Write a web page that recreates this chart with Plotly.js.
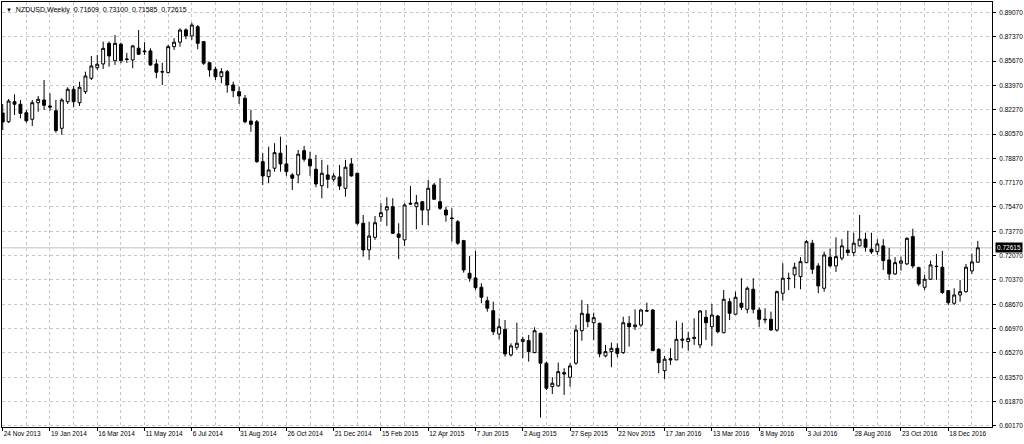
<!DOCTYPE html>
<html>
<head>
<meta charset="utf-8">
<script src="https://cdn.plot.ly/plotly-3.0.1.min.js"></script>
<style>
  html, body { margin: 0; padding: 0; background: #fff; }
  #chart { width: 1024px; height: 444px; }
</style>
</head>
<body>
<div id="chart"></div>
<script>
// NZDUSD weekly bars, 24 Nov 2013 .. Jan 2017 (one entry per week)
const opens = [
  0.8204, 0.8143, 0.8283, 0.8265, 0.8206, 0.8160, 0.8276, 0.8295, 0.8253, 0.8220,
  0.8097, 0.8283, 0.8370, 0.8276, 0.8353, 0.8447, 0.8521, 0.8547, 0.8691, 0.8570,
  0.8685, 0.8582, 0.8575, 0.8657, 0.8638, 0.8638, 0.8547, 0.8493, 0.8486, 0.8668,
  0.8699, 0.8785, 0.8743, 0.8807, 0.8703, 0.8556, 0.8510, 0.8458, 0.8493, 0.8400,
  0.8353, 0.8307, 0.8148, 0.8143, 0.7864, 0.7759, 0.7818, 0.7923, 0.7848, 0.7771,
  0.7771, 0.7941, 0.7881, 0.7811, 0.7696, 0.7771, 0.7741, 0.7757, 0.7678, 0.7848,
  0.7783, 0.7433, 0.7247, 0.7335, 0.7479, 0.7526, 0.7549, 0.7358, 0.7317, 0.7573,
  0.7549, 0.7584, 0.7526, 0.7701, 0.7584, 0.7526, 0.7470, 0.7444, 0.7312, 0.7084,
  0.7051, 0.6986, 0.6892, 0.6822, 0.6659, 0.6692, 0.6513, 0.6566, 0.6606, 0.6613,
  0.6529, 0.6664, 0.6455, 0.6291, 0.6296, 0.6389, 0.6357, 0.6455, 0.6682, 0.6799,
  0.6738, 0.6734, 0.6506, 0.6536, 0.6559, 0.6529, 0.6734, 0.6710, 0.6722, 0.6822,
  0.6827, 0.6552, 0.6403, 0.6487, 0.6478, 0.6615, 0.6606, 0.6636, 0.6583, 0.6776,
  0.6710, 0.6785, 0.6668, 0.6885, 0.6797, 0.6874, 0.6832, 0.6972, 0.6827, 0.6762,
  0.6762, 0.6687, 0.6944, 0.7049, 0.7072, 0.7060, 0.7158, 0.7294, 0.7135, 0.6979,
  0.7196, 0.7135, 0.7189, 0.7247, 0.7228, 0.7275, 0.7322, 0.7252, 0.7235, 0.7275,
  0.7177, 0.7079, 0.7154, 0.7149, 0.7340, 0.7123, 0.6986, 0.7042, 0.7130, 0.7126,
  0.6962, 0.6874, 0.6932, 0.6955, 0.7100, 0.71609
];
const highs = [
  0.8267, 0.8302, 0.8335, 0.8295, 0.8225, 0.8295, 0.8323, 0.8435, 0.8342, 0.8295,
  0.8307, 0.8384, 0.8393, 0.8423, 0.8493, 0.8603, 0.8610, 0.8703, 0.8703, 0.8749,
  0.8696, 0.8624, 0.8680, 0.8784, 0.8699, 0.8657, 0.8580, 0.8556, 0.8680, 0.8727,
  0.8796, 0.8796, 0.8835, 0.8819, 0.8703, 0.8563, 0.8528, 0.8517, 0.8505, 0.8423,
  0.8388, 0.8330, 0.8225, 0.8155, 0.7923, 0.7969, 0.7993, 0.8039, 0.7981, 0.7783,
  0.7946, 0.7974, 0.7934, 0.7911, 0.7876, 0.7841, 0.7783, 0.7841, 0.7876, 0.7888,
  0.7783, 0.7491, 0.7444, 0.7484, 0.7573, 0.7615, 0.7608, 0.7433, 0.7573, 0.7694,
  0.7631, 0.7584, 0.7736, 0.7715, 0.7749, 0.7549, 0.7538, 0.7456, 0.7317, 0.7205,
  0.7240, 0.7014, 0.6920, 0.6885, 0.6769, 0.6757, 0.6594, 0.6738, 0.6640, 0.6652,
  0.6706, 0.6668, 0.6466, 0.6357, 0.6459, 0.6420, 0.6455, 0.6722, 0.6897, 0.6869,
  0.6808, 0.6738, 0.6583, 0.6599, 0.6594, 0.6780, 0.6785, 0.6832, 0.6832, 0.6878,
  0.6832, 0.6559, 0.6506, 0.6559, 0.6752, 0.6738, 0.6675, 0.6769, 0.6827, 0.6827,
  0.6869, 0.6792, 0.6967, 0.6909, 0.6955, 0.7049, 0.6991, 0.7049, 0.6846, 0.6839,
  0.6815, 0.6962, 0.7154, 0.7088, 0.7158, 0.7196, 0.7317, 0.7317, 0.7154, 0.7235,
  0.7256, 0.7335, 0.7322, 0.7381, 0.7367, 0.7491, 0.7367, 0.7367, 0.7322, 0.7322,
  0.7261, 0.7196, 0.7200, 0.7335, 0.7395, 0.7130, 0.7072, 0.7172, 0.7219, 0.7240,
  0.6967, 0.6979, 0.7037, 0.7149, 0.7221, 0.73100
];
const lows = [
  0.8085, 0.8134, 0.8190, 0.8167, 0.8136, 0.8113, 0.8213, 0.8225, 0.8220, 0.8067,
  0.8051, 0.8267, 0.8244, 0.8253, 0.8337, 0.8435, 0.8505, 0.8512, 0.8528, 0.8540,
  0.8552, 0.8554, 0.8517, 0.8610, 0.8610, 0.8533, 0.8447, 0.8400, 0.8482, 0.8645,
  0.8668, 0.8720, 0.8715, 0.8650, 0.8540, 0.8458, 0.8435, 0.8412, 0.8346, 0.8314,
  0.8267, 0.8132, 0.8073, 0.7855, 0.7701, 0.7713, 0.7794, 0.7794, 0.7764, 0.7666,
  0.7713, 0.7864, 0.7764, 0.7685, 0.7608, 0.7678, 0.7724, 0.7666, 0.7619, 0.7759,
  0.7421, 0.7200, 0.7177, 0.7317, 0.7444, 0.7414, 0.7358, 0.7182, 0.7275, 0.7561,
  0.7391, 0.7421, 0.7421, 0.7596, 0.7526, 0.7444, 0.7305, 0.7282, 0.7088, 0.7025,
  0.6967, 0.6874, 0.6815, 0.6652, 0.6622, 0.6501, 0.6501, 0.6548, 0.6490, 0.6466,
  0.6525, 0.6075, 0.6268, 0.6240, 0.6291, 0.6233, 0.6291, 0.6443, 0.6612, 0.6706,
  0.6617, 0.6496, 0.6496, 0.6427, 0.6496, 0.6520, 0.6571, 0.6687, 0.6710, 0.6815,
  0.6539, 0.6385, 0.6343, 0.6443, 0.6478, 0.6559, 0.6543, 0.6583, 0.6559, 0.6617,
  0.6576, 0.6664, 0.6664, 0.6757, 0.6792, 0.6827, 0.6804, 0.6804, 0.6710, 0.6734,
  0.6682, 0.6675, 0.6892, 0.6967, 0.6979, 0.6972, 0.7154, 0.7079, 0.6944, 0.6955,
  0.7126, 0.7093, 0.7173, 0.7205, 0.7205, 0.7272, 0.7235, 0.7219, 0.7212, 0.7107,
  0.7037, 0.7072, 0.7102, 0.7142, 0.7118, 0.6995, 0.6967, 0.7037, 0.7037, 0.6939,
  0.6862, 0.6862, 0.6885, 0.6948, 0.7079, 0.71585
];
const closes = [
  0.8141, 0.8288, 0.8265, 0.8202, 0.8150, 0.8276, 0.8300, 0.8258, 0.8246, 0.8081,
  0.8295, 0.8370, 0.8283, 0.8384, 0.8463, 0.8533, 0.8545, 0.8656, 0.8603, 0.8691,
  0.8570, 0.8579, 0.8673, 0.8615, 0.8633, 0.8540, 0.8489, 0.8491, 0.8668, 0.8699,
  0.8784, 0.8743, 0.8819, 0.8691, 0.8552, 0.8505, 0.8458, 0.8493, 0.8400, 0.8360,
  0.8323, 0.8143, 0.8125, 0.7864, 0.7764, 0.7806, 0.7927, 0.7848, 0.7794, 0.7748,
  0.7916, 0.7881, 0.7834, 0.7708, 0.7783, 0.7741, 0.7764, 0.7694, 0.7825, 0.7764,
  0.7433, 0.7247, 0.7344, 0.7437, 0.7507, 0.7549, 0.7363, 0.7335, 0.7561, 0.7568,
  0.7577, 0.7526, 0.7678, 0.7601, 0.7538, 0.7491, 0.7467, 0.7294, 0.7107, 0.7049,
  0.6983, 0.6916, 0.6839, 0.6675, 0.6710, 0.6520, 0.6576, 0.6594, 0.6622, 0.6536,
  0.6682, 0.6455, 0.6280, 0.6315, 0.6396, 0.6380, 0.6436, 0.6687, 0.6804, 0.6745,
  0.6773, 0.6520, 0.6536, 0.6559, 0.6524, 0.6738, 0.6710, 0.6722, 0.6827, 0.6820,
  0.6543, 0.6459, 0.6483, 0.6478, 0.6622, 0.6622, 0.6629, 0.6629, 0.6820, 0.6738,
  0.6792, 0.6675, 0.6902, 0.6804, 0.6916, 0.6846, 0.6979, 0.6832, 0.6762, 0.6759,
  0.6687, 0.6955, 0.7049, 0.7047, 0.7126, 0.7165, 0.7305, 0.7112, 0.6995, 0.7212,
  0.7135, 0.7200, 0.7275, 0.7228, 0.7294, 0.7322, 0.7266, 0.7233, 0.7289, 0.7172,
  0.7079, 0.7158, 0.7170, 0.7328, 0.7135, 0.7009, 0.7042, 0.7142, 0.7132, 0.6949,
  0.6878, 0.6932, 0.6955, 0.7126, 0.7163, 0.72615
];

// bottom labels, one every 8 weeks starting at the first bar
const tickWeeks = [0, 8, 16, 24, 32, 40, 48, 56, 64, 72, 80, 88, 96, 104, 112, 120, 128, 136, 144, 152, 160];
const tickLabels = [
  "24 Nov 2013", "19 Jan 2014", "16 Mar 2014", "11 May 2014", "6 Jul 2014",
  "31 Aug 2014", "26 Oct 2014", "21 Dec 2014", "15 Feb 2015", "12 Apr 2015",
  "7 Jun 2015", "2 Aug 2015", "27 Sep 2015", "22 Nov 2015", "17 Jan 2016",
  "13 Mar 2016", "8 May 2016", "3 Jul 2016", "28 Aug 2016", "23 Oct 2016",
  "18 Dec 2016"
];
const priceTicks = [
  0.60170, 0.61870, 0.63570, 0.65270, 0.66970, 0.68670, 0.70370, 0.72070, 0.73770,
  0.75470, 0.77170, 0.78870, 0.80570, 0.82270, 0.83970, 0.85670, 0.87370, 0.89070
];

const last = closes.length - 1;
const weeks = closes.map((_, i) => i);
const gridGray = "#c6c6c6";
const axisFont = { family: "Liberation Sans, Arial, sans-serif", size: 6.5, color: "#000" };

let candles = {
  type: "candlestick",
  x: weeks,
  open: opens,
  high: highs,
  low: lows,
  close: closes,
  increasing: { line: { color: "#000", width: 1 }, fillcolor: "#fff" },
  decreasing: { line: { color: "#000", width: 1 }, fillcolor: "#000" },
  whiskerwidth: 0,
  hoverinfo: "skip",
  showlegend: false,
};

const headline = "NZDUSD,Weekly  " + [opens[last], highs[last], lows[last], closes[last]]
  .map((v) => v.toFixed(5)).join("  ");

let layout = {
  width: 1024,
  height: 444,
  margin: { l: 2, r: 32, t: 2, b: 17, pad: 0 },
  paper_bgcolor: "#fff",
  plot_bgcolor: "#fff",
  showlegend: false,
  xaxis: {
    type: "linear",
    range: [-0.12, 167.4],
    rangeslider: { visible: false },
    tickmode: "array",
    tickvals: tickWeeks,
    ticktext: tickLabels,
    ticks: "outside",
    ticklen: 3,
    tickcolor: "#000",
    ticklabelposition: "outside right",
    tickfont: axisFont,
    showline: true,
    linecolor: "#000",
    linewidth: 1,
    mirror: true,
    showgrid: true,
    gridcolor: gridGray,
    griddash: "3px,3px",
    gridwidth: 1,
    minor: { tickmode: "linear", tick0: 0, dtick: 4, showgrid: true, gridcolor: gridGray, griddash: "3px,3px", gridwidth: 1 },
    zeroline: false,
    fixedrange: true,
  },
  yaxis: {
    side: "right",
    range: [0.6009, 0.8980],
    tickmode: "array",
    tickvals: priceTicks,
    ticktext: priceTicks.map((v) => v.toFixed(5)),
    ticks: "outside",
    ticklen: 3,
    tickcolor: "#000",
    ticklabelstandoff: 2,
    tickfont: axisFont,
    showline: true,
    linecolor: "#000",
    linewidth: 1,
    mirror: true,
    showgrid: true,
    gridcolor: gridGray,
    griddash: "3px,3px",
    gridwidth: 1,
    zeroline: false,
    fixedrange: true,
  },
  shapes: [
    {
      type: "line", xref: "paper", x0: 0, x1: 1, yref: "y", y0: closes[last], y1: closes[last],
      line: { color: "#c0c0c0", width: 1 }, layer: "below",
    },
  ],
  annotations: [
    {
      xref: "paper", yref: "paper", x: 0, y: 1, xanchor: "left", yanchor: "top",
      xshift: 2, yshift: -2, showarrow: false, align: "left",
      text: '<span style="font-size:6px">▼</span>  ' + headline,
      font: { family: "Liberation Sans, Arial, sans-serif", size: 7, color: "#000" },
    },
    {
      xref: "paper", yref: "y", x: 1, y: closes[last], xanchor: "left", yanchor: "middle",
      xshift: 3, showarrow: false, text: closes[last].toFixed(5),
      bgcolor: "#000", borderpad: 1,
      font: { family: "Liberation Sans, Arial, sans-serif", size: 6.5, color: "#fff" },
    },
  ],
};

let config = { staticPlot: true, displayModeBar: false };

// eslint-disable-next-line no-undef
Plotly.newPlot("chart", [candles], layout, config);
</script>
</body>
</html>
